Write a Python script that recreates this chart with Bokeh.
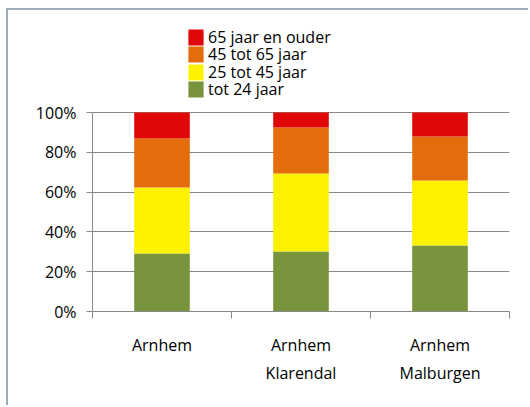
from bokeh.plotting import figure
from bokeh.models import (ColumnDataSource, Range1d, LinearAxis, FixedTicker,
                          NumeralTickFormatter, Legend, LegendItem)
from bokeh.embed import file_html
from bokeh.resources import INLINE

categories = ["Arnhem", "Arnhem\nKlarendal", "Arnhem\nMalburgen"]
series = ["tot 24 jaar", "25 tot 45 jaar", "45 tot 65 jaar", "65 jaar en ouder"]
tot_24 = [0.291, 0.302, 0.332]
j25_45 = [0.332, 0.391, 0.326]
j45_65 = [0.246, 0.232, 0.222]
j65_plus = [0.131, 0.075, 0.120]
colors = ["#77933C", "#FCF200", "#E46C0A", "#DF0707"]
y_ticks = [0, 0.2, 0.4, 0.6, 0.8, 1.0]

FONT = "Open Sans"
GREY = "#888888"

# layout: frame extends above 100% to make room for the legend
FRAME_H = 291
AXIS_H = 199
Y_MAX = FRAME_H / AXIS_H

xpos = [i + 0.5 for i in range(len(categories))]
data = dict(x=xpos)
for name, vals in zip(series, [tot_24, j25_45, j45_65, j65_plus]):
    data[name] = vals
source = ColumnDataSource(data)

p = figure(width=522, height=397, output_backend="svg", toolbar_location=None,
           x_range=Range1d(0, len(categories)), y_range=Range1d(0, Y_MAX),
           x_axis_type=None, min_border_left=84, min_border_right=21,
           min_border_top=10, min_border_bottom=96)
p.styles = {"border-left": "2px solid #9aadb8", "border-top": "2px solid #9aadb8",
            "margin-left": "6px", "margin-top": "8px"}
p.outline_line_color = None
p.background_fill_color = "white"
p.border_fill_color = "white"

renderers = p.vbar_stack(series, x="x", width=0.40, color=colors, source=source,
                         line_color=None)

# y axis
ya = p.yaxis[0]
ya.ticker = FixedTicker(ticks=y_ticks, minor_ticks=[])
ya.formatter = NumeralTickFormatter(format="0%")
ya.bounds = (0, 1)
ya.axis_line_color = GREY
ya.major_tick_line_color = GREY
ya.major_tick_out = 6
ya.major_tick_in = 0
ya.major_label_text_font = FONT
ya.major_label_text_font_size = "16px"
ya.major_label_text_color = "#000000"
ya.major_label_standoff = 10
p.ygrid.ticker = FixedTicker(ticks=y_ticks)
p.ygrid.grid_line_color = GREY
p.xgrid.grid_line_color = None

# x axis: boundary ticks
xa1 = LinearAxis(ticker=FixedTicker(ticks=list(range(len(categories) + 1)), minor_ticks=[]))
xa1.axis_line_color = GREY
xa1.major_tick_line_color = GREY
xa1.major_tick_out = 7
xa1.major_tick_in = 0
xa1.major_label_overrides = {i: "" for i in range(len(categories) + 1)}
xa1.major_label_text_font_size = "0px"
xa1.major_label_standoff = 0
p.add_layout(xa1, "below")

# x axis: category labels
xa2 = LinearAxis(ticker=FixedTicker(ticks=xpos, minor_ticks=[]))
xa2.axis_line_color = None
xa2.major_tick_line_color = None
xa2.major_label_overrides = {x: c for x, c in zip(xpos, categories)}
xa2.major_label_text_font = FONT
xa2.major_label_text_font_size = "16px"
xa2.major_label_text_color = "#000000"
xa2.major_label_text_line_height = 1.3
xa2.major_label_standoff = 9
p.add_layout(xa2, "below")

# legend: one entry per row, newest age group on top
legend_y = [211, 228, 246, 263]   # screen offsets of each row above the frame bottom
for s, r, ly in zip(series, renderers, legend_y):
    lg = Legend(items=[LegendItem(label=s, renderers=[r])], location=(94, ly),
                orientation="vertical", border_line_color=None,
                background_fill_alpha=0, padding=0, margin=0, spacing=0,
                glyph_width=19, glyph_height=20, label_height=16,
                label_standoff=3,
                label_text_font=FONT, label_text_font_size="16px",
                label_text_color="#000000")
    p.add_layout(lg, "center")

open("out.html", "w").write(file_html(p, INLINE))
